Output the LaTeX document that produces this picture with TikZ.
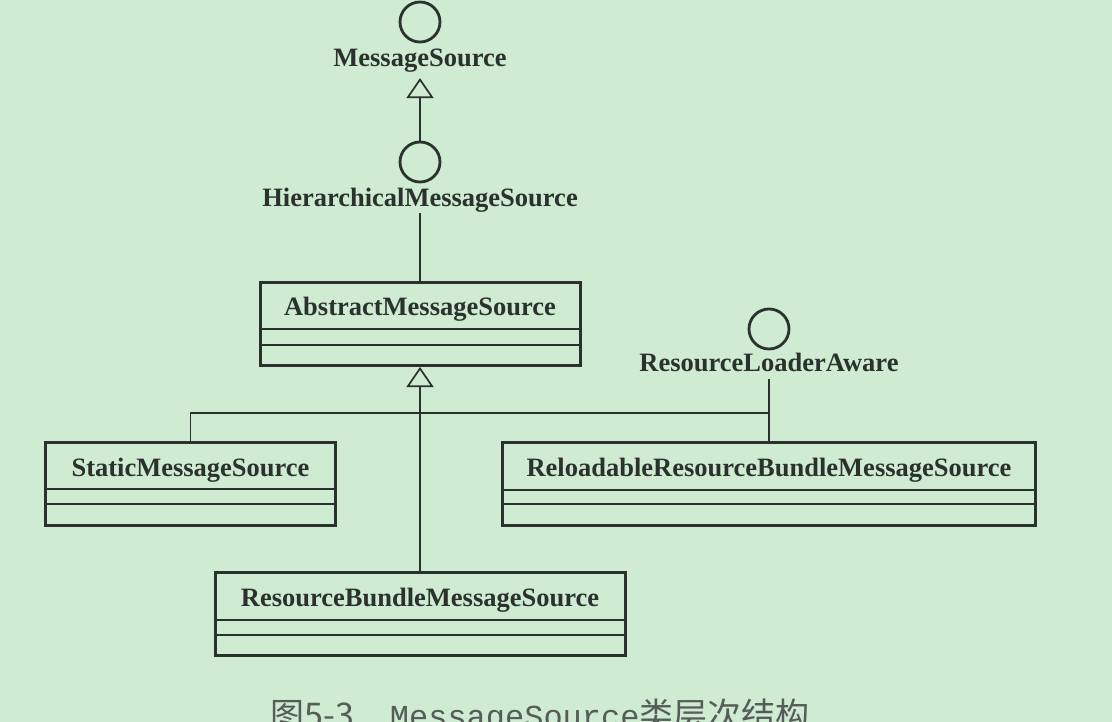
\documentclass[tikz,border=0pt]{standalone}
\usepackage{fontspec}
\setmainfont{Liberation Serif}
\newfontfamily\cjkfont{Noto Sans CJK SC}
\newfontfamily\capmono{Liberation Mono}
\usepackage{tikz}
\usetikzlibrary{positioning,arrows.meta,calc}
\definecolor{paper}{HTML}{CFEBD1}
\definecolor{ink}{HTML}{2B322D}
\definecolor{capgrey}{HTML}{565C57}
\tikzset{
  classbox/.style={draw=ink,line width=3pt,minimum height=83pt,inner sep=0pt},
  classname/.style={font=\fontsize{26.5}{30}\selectfont\bfseries,text=ink,inner sep=0pt,anchor=base},
  iface/.style={circle,draw=ink,line width=2.8pt,minimum size=40pt,inner sep=0pt},
  ifname/.style={font=\fontsize{26.5}{30}\selectfont\bfseries,text=ink,inner sep=0pt,anchor=base},
  divider/.style={draw=ink,line width=1.6pt},
  link/.style={draw=ink,line width=1.7pt},
  inherit/.style={-{Triangle[open,length=20pt,width=27pt]},draw=ink,line width=1.7pt}}

\begin{document}
\begin{tikzpicture}[x=1pt,y=-1pt]
  \fill[paper] (0,0) rectangle (1112,722);
  \useasboundingbox (0,0) rectangle (1112,722);
  % interfaces
  \node[iface] (ms) at (420,22) {};
  \node[ifname] (msname) at (420,67) {MessageSource};
  \node[iface] (hms) at (420,162) {};
  \node[ifname] (hmsname) at (420,207) {HierarchicalMessageSource};
  \node[iface] (rla) at (769,329) {};
  \node[ifname] (rlaname) at (769,371) {ResourceLoaderAware};
  % classes
  \node[classbox,minimum width=320pt] (abs) at (420,324) {};
  \node[classname] at ([yshift=-35pt]abs.north) {AbstractMessageSource};
  \draw[divider] ([yshift=-48pt]abs.north west) -- ([yshift=-48pt]abs.north east);
  \draw[divider] ([yshift=-64pt]abs.north west) -- ([yshift=-64pt]abs.north east);
  \node[classbox,minimum width=290pt] (static) at (190.5,484) {};
  \node[classname] at ([yshift=-35pt]static.north) {StaticMessageSource};
  \draw[divider] ([yshift=-48pt]static.north west) -- ([yshift=-48pt]static.north east);
  \draw[divider] ([yshift=-63pt]static.north west) -- ([yshift=-63pt]static.north east);
  \node[classbox,minimum width=533pt] (reload) at (769,484) {};
  \node[classname] at ([yshift=-35pt]reload.north) {ReloadableResourceBundleMessageSource};
  \draw[divider] ([yshift=-49pt]reload.north west) -- ([yshift=-49pt]reload.north east);
  \draw[divider] ([yshift=-63pt]reload.north west) -- ([yshift=-63pt]reload.north east);
  \node[classbox,minimum width=410pt] (bundle) at (420,614) {};
  \node[classname] at ([yshift=-35pt]bundle.north) {ResourceBundleMessageSource};
  \draw[divider] ([yshift=-49pt]bundle.north west) -- ([yshift=-49pt]bundle.north east);
  \draw[divider] ([yshift=-64pt]bundle.north west) -- ([yshift=-64pt]bundle.north east);
  % connectors
  \coordinate (fork) at (420,413);
  \draw[inherit,shorten >=5pt] (hms) -- (msname);
  \draw[link] (hmsname) -- (abs);
  \draw[inherit] (bundle) -- (abs);
  \draw[link] (static.north) |- (fork);
  \draw[link] (reload.north) |- (fork);
  \draw[link,shorten <=7pt] (rlaname) -- (reload);
  % caption
  \node[anchor=base,text=capgrey,inner sep=0pt] (caption) at (540,727)
    {\cjkfont\fontsize{34}{40}\selectfont 图5-3\hspace{36pt}{\capmono\fontsize{32}{36}\selectfont MessageSource}类层次结构};
\end{tikzpicture}
\end{document}
